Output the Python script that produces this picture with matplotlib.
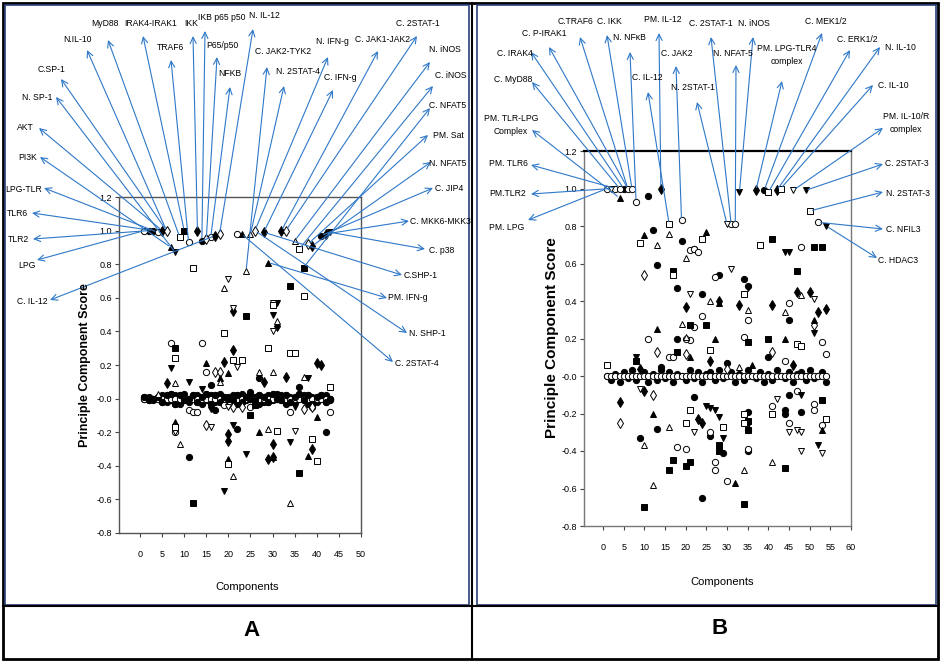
import numpy as np
import matplotlib
matplotlib.use("Agg")
import matplotlib.pyplot as plt
from matplotlib.patches import Rectangle
from matplotlib.lines import Line2D
from matplotlib.ticker import FormatStrFormatter

plt.rcParams['axes.unicode_minus'] = False

# ---- data: (component, principal component score) per marker type ----
# panel A
A_fcirc = [(2, 1.0), (3, 1.0), (14, 0.94), (41, 0.97), (11, -0.35), (22, -0.18), (42, -0.2),
           (27, 0.12), (16, 0.08), (36, 0.07), (25, 0.04), (39, -0.05), (17, -0.07)]
A_ocirc = [(1, 1.0), (4, 0.99), (11, 0.93), (16, 0.96), (22, 0.98), (7, 0.33), (14, 0.33),
           (15, 0.16), (11, -0.07), (12, -0.08), (13, -0.08), (34, -0.08), (43, -0.08),
           (8, -0.2), (19, -0.04), (25, -0.05)]
A_fdiam = [(5, 1.0), (13, 1.0), (17, 0.97), (28, 0.99), (32, 1.0), (39, 0.91), (42, 0.98),
           (19, 0.22), (21, 0.29), (21, 0.52), (31, 0.43), (40, 0.21), (41, 0.2), (6, 0.09),
           (20, -0.21), (20, -0.25), (30, -0.27), (29, -0.36), (30, -0.35), (39, -0.3),
           (28, 0.1), (33, 0.13), (16, -0.05)]
A_odiam = [(6, 1.0), (15, 0.95), (18, 0.98), (26, 1.0), (33, 1.0), (38, 0.92), (17, 0.16),
           (18, 0.16), (15, -0.16), (21, -0.05), (23, -0.05), (37, -0.06), (39, -0.05)]
A_ftri = [(7, 0.9), (23, 0.98), (29, 0.81), (15, 0.21), (20, 0.15), (8, -0.14), (20, -0.36),
          (27, -0.2), (38, -0.34), (30, -0.35), (18, 0.12), (40, -0.11)]
A_otri = [(24, 0.76), (25, 0.98), (35, 0.94), (19, 0.66), (31, 0.46), (27, 0.16), (30, 0.16),
          (37, 0.13), (8, 0.09), (9, -0.27), (21, -0.46), (29, -0.18), (34, -0.62), (18, 0.1),
          (4, 0.03)]
A_fdtri = [(8, 0.87), (43, 0.99), (7, 0.18), (11, 0.1), (14, 0.06), (31, 0.57), (30, 0.5),
           (38, 0.12), (21, -0.16), (19, -0.55), (24, -0.33), (34, -0.26), (35, -0.05)]
A_odtri = [(20, 0.71), (21, 0.54), (30, 0.57), (30, 0.4), (22, 0.19), (8, -0.2), (16, -0.17),
           (35, -0.19), (20, -0.05)]
A_fsq = [(10, 1.0), (37, 0.78), (8, 0.3), (24, 0.49), (34, 0.67), (12, -0.62), (36, -0.44),
         (25, -0.1), (26, -0.04)]
A_osq = [(9, 0.96), (12, 0.78), (36, 0.89), (8, 0.24), (19, 0.39), (21, 0.23), (23, 0.23),
         (30, 0.56), (37, 0.61), (29, 0.3), (34, 0.27), (35, 0.27), (43, 0.07), (20, -0.39),
         (31, -0.19), (39, -0.24), (40, -0.37), (8, -0.17)]
# near-zero loadings, components 1..43
A_band_dark = [0.01, -0.01, 0.0, 0.01, -0.02, 0.02, 0.03, -0.03, 0.02, -0.01, 0.0, 0.02, -0.02,
               0.01, 0.03, -0.03, 0.02, -0.02, 0.01, 0.0, -0.01, 0.02, -0.02, 0.01, 0.0, -0.01,
               0.02, 0.01, -0.02, 0.03, 0.0, -0.01, 0.02, -0.02, 0.01, 0.03, -0.01, 0.02, -0.03,
               0.01, 0.02, -0.02, 0.0]
A_band_dark2 = [0.0, 0.01, -0.01, 0.0, 0.02, -0.02, -0.01, 0.02, -0.03, 0.03, -0.02, 0.01, 0.02,
                -0.03, -0.01, 0.02, -0.02, 0.03, -0.02, 0.01, 0.02, -0.03, 0.03, -0.01, 0.02,
                0.01, -0.03, -0.02, 0.02, -0.01, 0.03, 0.02, -0.03, 0.01, -0.02, 0.0, 0.02,
                -0.03, 0.01, -0.02, 0.0, 0.02, -0.01]
A_band_open = [0.0, 0.0, 0.0, 0.0, 0.0, 0.0, 0.0, 0.0, 0.0, 0.0, 0.0, 0.0, 0.0, 0.0, 0.0, 0.0,
               0.0, 0.0, 0.0, 0.0, 0.0, 0.0, 0.0, 0.0, 0.0, 0.0, 0.0, 0.0, 0.0, 0.0, 0.0, 0.0,
               0.0, 0.0, 0.0, 0.0, 0.0, 0.0, 0.0, 0.0, 0.0, 0.0, 0.0]

# panel B
B_ocirc = [(1, 1.0), (3, 1.0), (4, 1.0), (6, 1.0), (7, 1.0), (8, 0.93), (19, 0.83), (31, 0.81),
           (32, 0.81), (52, 0.82), (21, 0.67), (22, 0.68), (23, 0.66), (27, 0.53), (24, 0.32),
           (22, 0.26), (35, 0.3), (45, 0.39), (48, 0.69), (11, 0.2), (16, 0.1), (17, 0.1),
           (21, 0.19), (34, 0.21), (53, 0.18), (54, 0.12), (18, -0.38), (20, -0.39), (26, -0.3),
           (27, -0.46), (27, -0.5), (30, -0.56), (35, -0.29), (35, -0.39), (41, -0.16),
           (45, -0.25), (51, -0.15), (51, -0.18), (53, -0.26), (20, 0.2), (44, 0.08), (47, -0.08)]
B_fcirc = [(5, 1.0), (11, 0.96), (39, 0.99), (12, 0.78), (19, 0.72), (22, 0.68), (13, 0.59),
           (18, 0.47), (24, 0.44), (28, 0.54), (34, 0.52), (35, 0.48), (45, 0.3), (18, 0.2),
           (9, -0.33), (13, -0.28), (22, -0.11), (24, -0.65), (26, -0.32), (29, -0.41),
           (35, -0.19), (35, -0.4), (44, -0.18), (44, -0.2), (45, -0.1), (48, -0.19), (30, 0.07),
           (40, 0.1), (14, 0.05)]
B_fdiam = [(14, 1.0), (37, 0.99), (42, 0.99), (20, 0.37), (28, 0.4), (33, 0.38), (41, 0.38),
           (47, 0.45), (50, 0.45), (52, 0.34), (54, 0.36), (4, -0.14), (10, -0.08), (23, -0.23),
           (24, -0.25), (9, 0.04), (26, 0.08), (46, 0.06)]
B_odiam = [(10, 0.54), (13, 0.13), (20, 0.12), (41, 0.13), (51, 0.27), (4, -0.25), (12, -0.1),
           (30, 0.04)]
B_ftri = [(4, 0.95), (10, 0.75), (25, 0.77), (28, 0.39), (13, 0.25), (27, 0.2), (44, 0.2),
          (51, 0.3), (12, -0.2), (32, -0.57), (53, -0.29), (21, 0.1), (36, 0.06)]
B_otri = [(13, 0.7), (16, 0.76), (20, 0.63), (26, 0.4), (19, 0.28), (20, 0.21), (35, 0.35),
          (44, 0.34), (48, 0.43), (10, -0.37), (12, -0.58), (16, -0.27), (34, -0.5),
          (41, -0.46), (33, 0.05)]
B_fdtri = [(33, 0.98), (49, 0.99), (54, 0.8), (35, 0.47), (44, 0.66), (45, 0.66), (51, 0.23),
           (25, -0.16), (26, -0.17), (27, -0.18), (28, -0.22), (29, -0.33), (35, -0.26),
           (52, -0.37), (8, 0.1), (48, -0.1)]
B_odtri = [(2, 1.0), (30, 0.81), (46, 0.99), (21, 0.44), (31, 0.57), (51, 0.41), (9, -0.07),
           (22, -0.3), (45, -0.3), (47, -0.29), (48, -0.3), (48, -0.4), (53, -0.41), (42, -0.12)]
B_fsq = [(17, 0.56), (21, 0.27), (25, 0.27), (18, 0.13), (35, 0.18), (40, 0.2), (41, 0.73),
         (47, 0.56), (51, 0.69), (53, 0.69), (10, -0.7), (16, -0.5), (17, -0.45), (20, -0.48),
         (21, -0.46), (28, -0.4), (28, -0.37), (34, -0.68), (35, -0.24), (35, -0.29),
         (44, -0.49), (53, -0.13), (8, 0.08)]
B_osq = [(16, 0.81), (40, 0.98), (43, 1.0), (50, 0.88), (9, 0.71), (24, 0.73), (17, 0.54),
         (34, 0.44), (38, 0.7), (26, 0.14), (47, 0.17), (48, 0.16), (20, -0.25), (21, -0.18),
         (29, -0.27), (34, -0.2), (34, -0.25), (41, -0.2), (54, -0.23), (1, 0.06)]
# near-zero loadings, components 1..54
B_band_dark = [0.0, -0.02, 0.01, -0.03, 0.02, -0.01, 0.03, -0.02, 0.0, 0.02, -0.03, 0.01, -0.02,
               0.03, -0.01, 0.02, -0.03, 0.01, 0.0, -0.02, 0.03, -0.01, 0.02, -0.03, 0.01, 0.02,
               -0.02, 0.03, -0.01, 0.0, 0.02, -0.03, 0.01, -0.02, 0.03, 0.0, -0.01, 0.02, -0.03,
               0.01, -0.02, 0.03, 0.0, -0.01, 0.02, -0.03, 0.01, 0.02, -0.02, 0.03, -0.01, 0.0,
               0.02, -0.03]
B_band_open = [0.0, 0.0, 0.0, 0.0, 0.0, 0.0, 0.0, 0.0, 0.0, 0.0, 0.0, 0.0, 0.0, 0.0, 0.0, 0.0,
               0.0, 0.0, 0.0, 0.0, 0.0, 0.0, 0.0, 0.0, 0.0, 0.0, 0.0, 0.0, 0.0, 0.0, 0.0, 0.0,
               0.0, 0.0, 0.0, 0.0, 0.0, 0.0, 0.0, 0.0, 0.0, 0.0, 0.0, 0.0, 0.0, 0.0, 0.0, 0.0,
               0.0, 0.0, 0.0, 0.0, 0.0, 0.0]

# ---- labelled variables and the point each arrow starts from ----
A_labels = ["LPG", "TLR2", "TLR6", "LPG-TLR", "AKT", "PI3K", "N. SP-1", "C.SP-1", "N.IL-10",
            "MyD88", "IRAK4-IRAK1", "TRAF6", "IKK", "IKB p65 p50", "P65/p50", "NFKB", "N. IL-12",
            "C. IL-12", "C. JAK2-TYK2", "N. 2STAT-4", "N. IFN-g", "C. IFN-g", "C. JAK1-JAK2",
            "C. 2STAT-1", "N. iNOS", "C. iNOS", "C. NFAT5", "PM. Sat", "N. NFAT5", "C. JIP4",
            "C. MKK6-MKK3", "C. p38", "C.SHP-1", "PM. IFN-g", "N. SHP-1", "C. 2STAT-4"]
A_label_pts = [(1, 1.0), (2, 1.0), (3, 1.0), (4, 0.99), (5, 1.0), (7, 0.9), (8, 0.87), (6, 1.0),
               (6, 1.0), (9, 0.96), (10, 1.0), (11, 0.93), (13, 1.0), (14, 0.94), (15, 0.95),
               (16, 0.96), (18, 0.98), (17, 0.97), (24, 0.76), (25, 0.98), (26, 1.0), (28, 0.99),
               (32, 1.0), (33, 1.0), (35, 0.94), (36, 0.89), (37, 0.78), (38, 0.92), (39, 0.91),
               (41, 0.97), (42, 0.98), (43, 0.99), (28, 0.99), (29, 0.81), (26, 1.0), (23, 0.98)]

B_labels = ["PM. LPG", "PM.TLR2", "PM. TLR6", "PM. TLR-LPG\nComplex", "C. MyD88", "C. IRAK4",
            "C. P-IRAK1", "C.TRAF6", "C. IKK", "N. NF\u03baB", "PM. IL-12", "C. IL-12", "C. JAK2",
            "N. 2STAT-1", "C. 2STAT-1", "N. NFAT-5", "N. iNOS", "PM. LPG-TLR4\ncomplex",
            "C. MEK1/2", "C. ERK1/2", "N. IL-10", "C. IL-10", "PM. IL-10/R\ncomplex",
            "C. 2STAT-3", "N. 2STAT-3", "C. NFIL3", "C. HDAC3"]
B_label_pts = [(1, 1.0), (2, 1.0), (3, 1.0), (4, 0.95), (4, 1.0), (5, 1.0), (6, 1.0), (6, 1.0),
               (7, 1.0), (8, 0.93), (14, 1.0), (16, 0.81), (19, 0.83), (30, 0.81), (31, 0.81),
               (32, 0.81), (33, 0.98), (37, 0.99), (39, 0.99), (40, 0.98), (42, 0.99), (43, 1.0),
               (46, 0.99), (49, 0.99), (50, 0.88), (52, 0.82), (54, 0.8)]

# ---- layout (pixels from top-left of the 941x662 image) ----
W, H = 941, 662
# text centre x, y, arrow head x, y
A_label_pos = [(27, 266, 37, 260), (18, 239, 33, 239), (17, 213, 32, 213), (24, 189, 44, 188),
               (25, 128, 39, 128), (28, 157, 40, 157), (37, 98, 56, 97), (52, 70, 61, 79),
               (77, 39, 87, 50), (105, 24, 108, 40), (151, 23, 143, 36), (170, 48, 171, 60),
               (191, 23, 193, 36), (222, 18, 205, 31), (222, 46, 217, 57), (230, 74, 230, 87),
               (264, 16, 253, 29), (32, 302, 50, 300), (283, 51, 267, 67), (298, 72, 284, 86),
               (332, 42, 328, 57), (340, 77, 333, 90), (383, 39, 378, 51), (418, 23, 417, 36),
               (445, 50, 430, 62), (451, 76, 433, 86), (448, 106, 430, 108),
               (448, 135, 428, 135), (448, 163, 431, 162), (449, 188, 433, 188),
               (440, 222, 409, 221), (442, 250, 425, 249), (421, 275, 402, 275),
               (408, 298, 387, 298), (427, 333, 407, 333), (417, 363, 393, 362)]
B_label_pos = [(507, 228, 528, 220), (508, 194, 531, 194), (508, 164, 531, 165),
               (511, 125, 532, 130), (513, 80, 532, 82), (515, 53, 531, 52),
               (544, 33, 549, 47), (575, 21, 580, 37), (609, 21, 607, 35), (629, 37, 630, 52),
               (663, 19, 659, 33), (647, 77, 648, 92), (677, 53, 676, 66), (693, 87, 697, 102),
               (711, 23, 711, 37), (733, 53, 736, 65), (754, 23, 753, 37), (787, 55, 782, 81),
               (826, 21, 822, 33), (857, 39, 850, 50), (900, 47, 880, 47), (893, 85, 873, 85),
               (906, 123, 883, 128), (907, 164, 883, 164), (908, 194, 883, 192),
               (903, 229, 883, 229), (898, 260, 877, 258)]

NARROW = ['Liberation Sans Narrow', 'Liberation Sans', 'DejaVu Sans']
WIDE = ['Liberation Sans', 'DejaVu Sans']
ARROW = '#2f78c8'
NAVY = '#2a3f7c'
LABEL_SIZE = 6.2


def frac(x, y):
    return x / W, 1 - y / H


fig = plt.figure(figsize=(W / 100, H / 100), dpi=100)
fig.patch.set_facecolor('white')

# frames
fig.add_artist(Rectangle(frac(3, 659), 935 / W, 656 / H, transform=fig.transFigure,
                         fill=False, ec='black', lw=2))
fig.add_artist(Line2D([3 / W, 938 / W], [1 - 606 / H] * 2, transform=fig.transFigure,
                      color='black', lw=1.5))
fig.add_artist(Line2D([472 / W] * 2, [1 - 3 / H, 1 - 659 / H], transform=fig.transFigure,
                      color='black', lw=1.5))
fig.add_artist(Rectangle(frac(5, 605), 464 / W, 600 / H, transform=fig.transFigure,
                         fill=False, ec=NAVY, lw=1.2))
fig.add_artist(Rectangle(frac(477, 605), 459 / W, 600 / H, transform=fig.transFigure,
                         fill=False, ec=NAVY, lw=1.2))

series_style = [
    ('fcirc', 'o', 'black'), ('ocirc', 'o', 'white'), ('fdiam', 'd', 'black'),
    ('odiam', 'd', 'white'), ('ftri', '^', 'black'), ('otri', '^', 'white'),
    ('fdtri', 'v', 'black'), ('odtri', 'v', 'white'), ('fsq', 's', 'black'),
    ('osq', 's', 'white'),
]


def draw_panel(ax, series, bands, xmin, xmax, labels, pts, pos, ylab_x, ylab_size, ylab_y):
    ax.set_xlim(xmin, xmax)
    ax.set_ylim(-0.8, 1.2)
    # near-zero band
    for vals, face in bands:
        comps = np.arange(1, len(vals) + 1)
        ax.plot(comps, vals, ls='none', marker='o', ms=4.5, mfc=face, mec='black', mew=0.7,
                zorder=2)
    for key, mk, face in series_style:
        data = series[key]
        xs = [p[0] for p in data]
        ys = [p[1] for p in data]
        ax.plot(xs, ys, ls='none', marker=mk, ms=4.5 if mk != 'd' else 5.5, mfc=face,
                mec='black', mew=0.7, zorder=3)
    ax.set_xticks(np.arange(0, xmax + 1, 5))
    ax.set_yticks(np.arange(-0.8, 1.21, 0.2))
    ax.yaxis.set_major_formatter(FormatStrFormatter('%.1f'))
    ax.tick_params(axis='x', length=3, pad=9, labelsize=6.5, direction='out', color='#444')
    ax.tick_params(axis='y', length=3, pad=2, labelsize=6.5, direction='out', color='#444')
    for lab in ax.get_xticklabels() + ax.get_yticklabels():
        lab.set_family(NARROW)
    for (name, (cx, cy), (tx, ty, hx, hy)) in zip(labels, pts, pos):
        ax.annotate('', xy=(hx, H - hy), xycoords='figure pixels', xytext=(cx, cy),
                    textcoords='data', annotation_clip=False,
                    arrowprops=dict(arrowstyle='->,head_length=0.45,head_width=0.22',
                                    color=ARROW, lw=0.8, shrinkA=2, shrinkB=0), zorder=4)
        fig.text(tx / W, 1 - ty / H, name, ha='center', va='center', fontsize=LABEL_SIZE,
                 family=NARROW, linespacing=1.6)
    fig.text(ylab_x / W, 1 - ylab_y / H, 'Principle Component Score', rotation=90,
             ha='center', va='center', fontsize=ylab_size, weight='bold', family=WIDE)


# panel A
axA = fig.add_axes([119 / W, 1 - 533 / H, 242 / W, 336 / H])
seriesA = dict(fcirc=A_fcirc, ocirc=A_ocirc, fdiam=A_fdiam, odiam=A_odiam, ftri=A_ftri,
               otri=A_otri, fdtri=A_fdtri, odtri=A_odtri, fsq=A_fsq, osq=A_osq)
draw_panel(axA, seriesA, [(A_band_dark, 'black'), (A_band_dark2, 'black'), (A_band_open, 'white'),
                          (A_band_dark, 'black')],
           -4.75, 50, A_labels, A_label_pts, A_label_pos, 85, 9, 365)
for s in axA.spines.values():
    s.set_color('#555')
    s.set_linewidth(1.0)

# panel B
axB = fig.add_axes([584 / W, 1 - 526 / H, 267 / W, 375 / H])
seriesB = dict(fcirc=B_fcirc, ocirc=B_ocirc, fdiam=B_fdiam, odiam=B_odiam, ftri=B_ftri,
               otri=B_otri, fdtri=B_fdtri, odtri=B_odtri, fsq=B_fsq, osq=B_osq)
draw_panel(axB, seriesB, [(B_band_dark, 'black'), (B_band_open, 'white')],
           -4.6, 60, B_labels, B_label_pts, B_label_pos, 552, 11, 338)
for name, s in axB.spines.items():
    s.set_color('black' if name == 'top' else '#777')
    s.set_linewidth(1.6 if name == 'top' else 1.0)

fig.text(247 / W, 1 - 587 / H, 'Components', ha='center', va='center', fontsize=8,
         family=NARROW)
fig.text(722 / W, 1 - 582 / H, 'Components', ha='center', va='center', fontsize=8,
         family=NARROW)
fig.text(252 / W, 1 - 630 / H, 'A', ha='center', va='center', fontsize=16, weight='bold',
         family=WIDE)
fig.text(720 / W, 1 - 628 / H, 'B', ha='center', va='center', fontsize=16, weight='bold',
         family=WIDE)

fig.savefig('out.png', dpi=100)
